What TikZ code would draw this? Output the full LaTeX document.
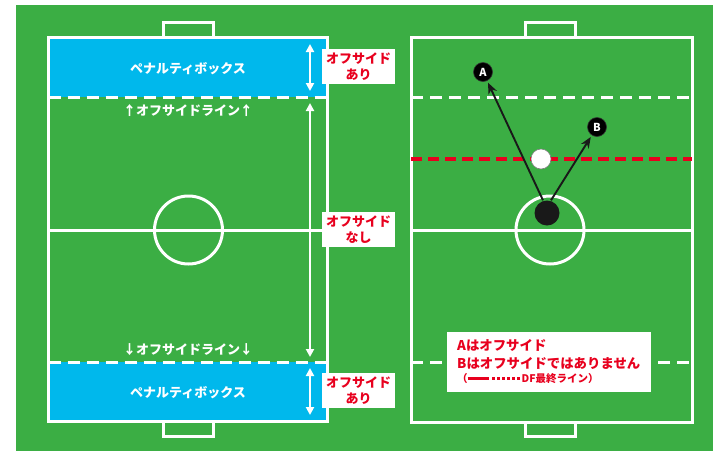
\documentclass[tikz,border=0pt]{standalone}
\usepackage{fontspec}
\setmainfont{Noto Sans CJK JP}
\usetikzlibrary{arrows.meta}
\definecolor{pitch}{RGB}{59,174,68}
\definecolor{pboxblue}{RGB}{0,184,236}
\definecolor{jred}{RGB}{232,0,30}
\newcommand{\legdot}{\rule[3pt]{3pt}{3pt}\hspace{2pt}}
\tikzset{
  fieldline/.style={draw=white,line width=3pt},
  dashline/.style={draw=white,line width=3pt,dash pattern=on 12pt off 7pt},
  reddash/.style={draw=jred,line width=3.5pt,dash pattern=on 11pt off 6pt},
  warrow/.style={draw=white,line width=2pt,{Triangle[width=8pt,length=8pt]}-{Triangle[width=8pt,length=8pt]}},
  parrow/.style={draw=black!90,line width=1.9pt,-{Stealth[width=9pt,length=11pt]},shorten >=2pt},
  boxtext/.style={text=white,font=\fontsize{13}{15}\selectfont\bfseries},
  oltext/.style={text=white,font=\fontsize{13}{15}\selectfont\bfseries},
  lbl/.style={fill=white,text=jred,align=center,minimum width=73pt,minimum height=35pt,inner sep=0pt,
    font=\fontsize{13}{16}\selectfont\bfseries},
  player/.style={circle,fill=black,draw=black!80,line width=0.6pt,text=white,minimum size=19pt,inner sep=0pt,
    font=\fontsize{11}{11}\selectfont\bfseries},
  ballnode/.style={circle,fill=white,draw=black!50,line width=0.6pt,minimum size=20pt,inner sep=0pt},
  dotnode/.style={circle,fill=black!90,minimum size=25pt,inner sep=0pt},
  infobox/.style={fill=white,minimum width=204pt,minimum height=60pt,inner sep=0pt},
  infotext/.style={text=jred,anchor=west,inner sep=0pt,font=\fontsize{13.4}{15}\selectfont\bfseries},
  legtext/.style={text=jred,anchor=west,inner sep=0pt,font=\fontsize{10.5}{12}\selectfont\bfseries},
}
\begin{document}
\begin{tikzpicture}[x=1pt,y=-1pt]
\useasboundingbox (0,0) rectangle (713,451);
\fill[white] (0,0) rectangle (713,451);
\fill[pitch] (16,5) rectangle (713,451);
% ---------- left field ----------
\fill[pboxblue] (48.5,37.5) rectangle (327,97);
\fill[pboxblue] (48.5,362) rectangle (327,421);
\draw[fieldline] (48.5,37.5) rectangle (327,421);
\draw[fieldline] (48.5,230) -- (327,230);
\draw[fieldline] (188.5,230) circle (34);
\draw[fieldline] (163.5,37.5) -- (163.5,22.5) -- (213.5,22.5) -- (213.5,37.5);
\draw[fieldline] (163.5,421) -- (163.5,436) -- (213.5,436) -- (213.5,421);
\draw[dashline] (48.5,97) -- (327,97);
\draw[dashline] (48.5,362) -- (327,362);
\node[boxtext] (pbtop) at (188,69) {ペナルティボックス};
\node[boxtext] (pbbot) at (188,393) {ペナルティボックス};
\node[oltext] (oltop) at (188,111) {↑オフサイドライン↑};
\node[oltext] (olbot) at (188,350) {↓オフサイドライン↓};
\coordinate (a1t) at (310,44);
\coordinate (a1b) at (310,91);
\coordinate (a2t) at (310,103);
\coordinate (a2b) at (310,357);
\coordinate (a3t) at (310,368);
\coordinate (a3b) at (310,415);
\draw[warrow] (a1t) -- (a1b);
\draw[warrow] (a2t) -- (a2b);
\draw[warrow] (a3t) -- (a3b);
\node[lbl] (lbltop) at (358.5,66.5) {オフサイド\\あり};
\node[lbl] (lblmid) at (358.5,229.5) {オフサイド\\なし};
\node[lbl] (lblbot) at (358.5,390.5) {オフサイド\\あり};
% ---------- right field ----------
\draw[fieldline] (411,37.5) rectangle (692,422);
\draw[fieldline] (411,230) -- (692,230);
\draw[fieldline] (550,230) circle (34);
\draw[fieldline] (525.5,37.5) -- (525.5,22.5) -- (575.5,22.5) -- (575.5,37.5);
\draw[fieldline] (525.5,422) -- (525.5,436) -- (575.5,436) -- (575.5,422);
\draw[dashline] (411,97) -- (692,97);
\draw[reddash] (411,159) -- (692,159);
\draw[dashline] (411,362) -- (692,362);
\node[player] (A) at (483,72) {A};
\node[player] (B) at (597,127) {B};
\node[ballnode] (ball) at (541,159) {};
\node[dotnode] (D) at (547,213) {};
\draw[parrow] ([xshift=-4pt]D.north) -- (A);
\draw[parrow] ([xshift=4pt]D.north) -- (B);
\node[infobox] (info) at (549,362) {};
\node[infotext] (t1) at (457,345) {Aはオフサイド};
\node[infotext] (t2) at (457,363) {Bはオフサイドではありません};
\node[legtext] (t3) at (457,379)
  {（\rule[3pt]{21pt}{3pt}\hspace{3pt}\legdot\legdot\legdot\legdot\legdot\legdot DF最終ライン）};
\end{tikzpicture}
\end{document}
